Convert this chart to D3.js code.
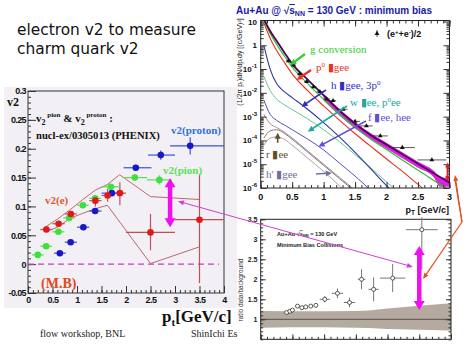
<!DOCTYPE html>
<html><head><meta charset="utf-8">
<script src="https://cdn.jsdelivr.net/npm/d3@7"></script>
<style>body{margin:0;background:#fff}svg{display:block}</style>
</head><body>
<script>
// ================= DATA =================
// Left panel: v2 vs pT (PHENIX)
const ptE     = [0.375,0.625,0.875,1.375,1.625,1.875,2.5,3.5];
const v2E     = [0.060,0.070,0.087,0.110,0.119,0.123,0.055,0.077];
const v2EexX  = [0.125,0.125,0.125,0.125,0.125,0.125,0.5,0.5];
const v2Elo   = [0.056,0.066,0.083,0.100,0.108,0.102,0.024,-0.033];
const v2Ehi   = [0.064,0.074,0.091,0.120,0.130,0.142,0.087,0.156];
const ptPion  = [0.2,0.37,0.62,0.84,1.12,1.37,1.69,2.18,2.68];
const v2Pion  = [0.016,0.031,0.056,0.080,0.102,0.114,0.134,0.150,0.146];
const pionExX = [0.12,0.12,0.12,0.12,0.12,0.12,0.2,0.25,0.25];
const pionExY = [0.003,0.003,0.003,0.003,0.004,0.004,0.005,0.005,0.008];
const ptProton  = [0.65,0.87,1.13,1.37,1.71,2.2,2.71,3.31];
const v2Proton  = [0.019,0.038,0.064,0.092,0.123,0.167,0.189,0.205];
const protonXlo = [0.53,0.75,1.0,1.25,1.5,1.95,2.45,2.9];
const protonXhi = [0.77,1.0,1.25,1.5,1.95,2.52,3.0,4.0];
const protonExY = [0.003,0.003,0.003,0.004,0.004,0.005,0.008,0.015];
const bandUpPt  = [0.35,0.6,0.87,1.12,1.37,1.62,1.87,2.5,3.5];
const bandUp    = [0.064,0.078,0.095,0.112,0.128,0.138,0.155,0.117,0.112];
const bandLoPt  = [0.35,0.6,0.87,1.12,1.37,1.62,2.5,3.5];
const bandLo    = [0.056,0.064,0.080,0.088,0.096,0.102,0.001,0.030];
const xTicksL = [0,0.5,1,1.5,2,2.5,3,3.5,4];
const yTicksL = [-0.05,0,0.05,0.1,0.15,0.2,0.25,0.3];

// Top right: electron spectra cocktail (log10 of yield)
const ptC = [0.05,0.15,0.25,0.375,0.5,0.75,1,1.25,1.5,1.75,2,2.25,2.5,2.75,3];
const totalLog = [1.1,0.6,0.2,-0.3,-0.78,-1.45,-2.1,-2.75,-3.3,-3.78,-4.18,-4.58,-4.98,-5.38,-5.78];
const gammaLog = [1.05,0.5,0.05,-0.45,-0.92,-1.62,-2.27,-2.9,-3.45,-3.95,-4.38,-4.82,-5.25,-5.68,-6.1];
const pi0Log   = [0.95,0.3,-0.2,-0.72,-1.2,-1.92,-2.55,-3.15,-3.72,-4.25,-4.78,-5.3,-5.85,-6.4,-7.0];
const etaLog   = [0.0,-1.0,-1.6,-1.95,-2.2,-2.7,-3.25,-3.85,-4.5,-5.2,-5.9,-6.5,-7,-7.5,-8];
const omegaLog = [-1.3,-1.9,-2.25,-2.5,-2.7,-3.1,-3.55,-4.05,-4.6,-5.15,-5.75,-6.3,-6.9,-7.4,-8];
const phiLog   = [-2.3,-2.9,-3.15,-3.35,-3.55,-3.95,-4.4,-4.95,-5.5,-6.1,-6.7,-7.3,-7.9,-8.4,-9];
const etapLog  = [-2.9,-3.3,-3.45,-3.65,-3.9,-4.45,-5.0,-5.55,-6.1,-6.7,-7.3,-7.9,-8.5,-9,-9.5];
const rhoLog   = [-3.9,-3.6,-3.55,-3.7,-3.95,-4.5,-5.05,-5.6,-6.15,-6.7,-7.3,-7.9,-8.5,-9,-9.5];
const grayLog  = [-4.2,-3.9,-3.85,-3.95,-4.2,-4.75,-5.3,-5.9,-6.5,-7.1,-7.7,-8.3,-8.9,-9.4,-10];
const bandPt   = [1.0,1.25,1.5,1.75,2.0,2.25,2.5,2.75,2.85,3.0];
const bandHiLog= [-2.05,-2.68,-3.22,-3.7,-4.1,-4.5,-4.9,-5.28,-5.55,-5.58];
const bandLoLog= [-2.32,-2.95,-3.5,-3.95,-4.35,-4.75,-5.15,-5.55,-5.95,-5.95];
const dataPt   = [0.44,0.52,0.62,0.73,0.84,0.94,1.05,1.15,1.31,1.5,1.68,1.9,2.25,2.72];
const dataLog  = [-0.66,-0.83,-1.2,-1.53,-1.75,-1.95,-2.26,-2.33,-2.69,-3.2,-3.39,-3.81,-4.3,-4.82];
const dataExX  = [0.04,0.04,0.04,0.04,0.05,0.05,0.05,0.05,0.07,0.08,0.1,0.12,0.2,0.23];
const yExpT = [1,0,-1,-2,-3,-4,-5,-6];
const xTicksT = [0,0.5,1,1.5,2,2.5,3];

// Bottom right: ratio data/background
const ratioPt  = [0.41,0.46,0.50,0.58,0.65,0.71,0.79,0.87,1.01,1.21,1.40,1.59,1.78,2.08,2.54];
const ratio    = [1.17,1.20,1.23,1.33,1.29,1.31,1.33,1.35,1.50,1.65,1.42,2.00,1.75,2.03,3.24];
const ratioExX = [0.03,0.03,0.03,0.03,0.03,0.03,0.03,0.03,0.08,0.09,0.09,0.06,0.08,0.2,0.25];
const ratioExY = [0.03,0.03,0.03,0.04,0.04,0.04,0.04,0.05,0.08,0.12,0.12,0.25,0.3,0.35,0.99];
const sysPt    = [0,0.5,1,1.5,1.7,2,2.5,3];
const sysUp    = [1.21,1.2,1.2,1.21,1.22,1.27,1.34,1.4];
const sysLo    = [0.79,0.8,0.8,0.79,0.78,0.76,0.74,0.72];
const yTicksB  = [1,1.5,2,2.5,3,3.5];

// ================= DRAW =================
const W=474,H=355;
const svg=d3.select('body').append('svg').attr('width',W).attr('height',H);
const SANS='Liberation Sans, Arial, sans-serif', SERIF='Liberation Serif, Times New Roman, serif';

function arrow(g,x1,y1,x2,y2,color,w,hl,hw,both){
  const a=Math.atan2(y2-y1,x2-x1);
  const head=(x,y,ang)=>{
    const bx=x-hl*Math.cos(ang), by=y-hl*Math.sin(ang);
    const px=-Math.sin(ang)*hw/2, py=Math.cos(ang)*hw/2;
    g.append('path').attr('d',`M${x},${y}L${bx+px},${by+py}L${bx-px},${by-py}Z`).attr('fill',color);
  };
  const sx= both? x1+hl*0.8*Math.cos(a):x1, sy= both? y1+hl*0.8*Math.sin(a):y1;
  g.append('line').attr('x1',sx).attr('y1',sy).attr('x2',x2-hl*0.8*Math.cos(a)).attr('y2',y2-hl*0.8*Math.sin(a))
    .attr('stroke',color).attr('stroke-width',w);
  head(x2,y2,a); if(both) head(x1,y1,a+Math.PI);
}

// Title
svg.append('text').attr('x',17).attr('y',35).attr('font-family','DejaVu Sans, Verdana, sans-serif').attr('font-size',15.4).attr('fill','#111').text('electron v2 to measure');
svg.append('text').attr('x',17).attr('y',54).attr('font-family','DejaVu Sans, Verdana, sans-serif').attr('font-size',15.4).attr('fill','#111').text('charm quark v2');

// ---------- Left panel ----------
svg.append('rect').attr('x',4).attr('y',87).attr('width',233).attr('height',221).attr('fill','#f2f0f4');
const xL=d3.scaleLinear([0,4],[28,224]);
const yL=d3.scaleLinear([-0.05,0.3],[293,91]);
const gL=svg.append('g');
gL.append('rect').attr('x',xL(0)).attr('y',yL(0.3)).attr('width',xL(4)-xL(0)).attr('height',yL(-0.05)-yL(0.3)).attr('fill','none').attr('stroke','#333').attr('stroke-width',1);
const axStyle=(g,fs)=>{g.select('.domain').remove();g.selectAll('line').attr('stroke','#333');g.selectAll('text').attr('font-family',SANS).attr('font-weight','bold').attr('font-size',fs).attr('fill','#111');};
gL.append('g').attr('transform',`translate(0,${yL(-0.05)})`).call(d3.axisBottom(xL).tickValues(d3.range(0,4.001,0.1)).tickSize(-3).tickFormat('')).call(g=>axStyle(g,9));
gL.append('g').attr('transform',`translate(0,${yL(-0.05)})`).call(d3.axisBottom(xL).tickValues(xTicksL).tickSizeInner(-7).tickSizeOuter(0).tickPadding(3).tickFormat(d=>String(d))).call(g=>axStyle(g,9))
  .call(g=>g.selectAll('text').attr('dy','0.71em').attr('y',4).attr('letter-spacing',-0.5));
gL.append('g').attr('transform',`translate(${xL(0)},0)`).call(d3.axisLeft(yL).tickValues(d3.range(-0.05,0.3001,0.01)).tickSize(-3).tickFormat('')).call(g=>axStyle(g,9));
gL.append('g').attr('transform',`translate(${xL(0)},0)`).call(d3.axisLeft(yL).tickValues(yTicksL).tickSizeInner(-8).tickSizeOuter(0).tickFormat(d=>String(+d.toFixed(2)))).call(g=>axStyle(g,9))
  .call(g=>g.selectAll('text').attr('x',-2).attr('letter-spacing',-0.6));

// zero line
gL.append('line').attr('x1',xL(0)).attr('x2',xL(3.9)).attr('y1',yL(0)).attr('y2',yL(0)).attr('stroke','#c83cc8').attr('stroke-width',1.4).attr('stroke-dasharray','6,4');
// band
const lineL=d3.line().x(d=>xL(d[0])).y(d=>yL(d[1]));
gL.append('path').attr('d',lineL(d3.zip(bandUpPt,bandUp))).attr('fill','none').attr('stroke','#c06868').attr('stroke-width',1);
gL.append('path').attr('d',lineL(d3.zip(bandLoPt,bandLo))).attr('fill','none').attr('stroke','#c06868').attr('stroke-width',1);

function errs(g,xs,ys,xl,xh,yl,yh,col){
  xs.forEach((x,i)=>{
    g.append('line').attr('x1',xL(xl[i])).attr('x2',xL(xh[i])).attr('y1',yL(ys[i])).attr('y2',yL(ys[i])).attr('stroke',col).attr('stroke-width',1.2);
    g.append('line').attr('x1',xL(x)).attr('x2',xL(x)).attr('y1',yL(yl[i])).attr('y2',yL(yh[i])).attr('stroke',col).attr('stroke-width',1.2);
  });
}
errs(gL,ptE,v2E,ptE.map((x,i)=>x-v2EexX[i]),ptE.map((x,i)=>x+v2EexX[i]),v2Elo,v2Ehi,'#c05060');
errs(gL,ptPion,v2Pion,ptPion.map((x,i)=>x-pionExX[i]),ptPion.map((x,i)=>x+pionExX[i]),v2Pion.map((y,i)=>y-pionExY[i]),v2Pion.map((y,i)=>y+pionExY[i]),'#50e050');
errs(gL,ptProton,v2Proton,protonXlo,protonXhi,v2Proton.map((y,i)=>y-protonExY[i]),v2Proton.map((y,i)=>y+protonExY[i]),'#3a50e0');
const dots=(xs,ys,col)=>gL.selectAll(null).data(d3.zip(xs,ys)).join('circle').attr('cx',d=>xL(d[0])).attr('cy',d=>yL(d[1])).attr('r',3.3).attr('fill',col);
dots(ptProton,v2Proton,'#1818c8');
dots(ptPion,v2Pion,'#3de03d');
dots(ptE,v2E,'#e01818');
// magenta double arrow
arrow(gL,xL(2.9),yL(0.149),xL(2.9),yL(0.064),'#ee10ee',4.5,9,11,true);

// texts left
const tL=(x,y,size,col,txt,w='bold',fam=SERIF)=>gL.append('text').attr('x',x).attr('y',y).attr('font-family',fam).attr('font-weight',w).attr('font-size',size).attr('fill',col).text(txt);
tL(7,106,12,'#111','v2');
{
  const t=gL.append('text').attr('x',36).attr('y',122).attr('font-family',SERIF).attr('font-weight','bold').attr('font-size',11).attr('fill','#111');
  t.append('tspan').text('v');
  t.append('tspan').attr('dy',3).attr('font-size',8).text('2');
  t.append('tspan').attr('dy',-8).attr('font-size',7).text(' pion');
  t.append('tspan').attr('dy',5).text(' & v');
  t.append('tspan').attr('dy',3).attr('font-size',8).text('2');
  t.append('tspan').attr('dy',-8).attr('font-size',7).text(' proton');
  t.append('tspan').attr('dy',5).text(' :');
}
tL(36,139,10.6,'#111','nucl-ex/0305013 (PHENIX)');
tL(171,134,11,'#3070e0','v2(proton)');
tL(163,174,11,'#58e058','v2(pion)');
tL(45,204,11,'#e05830','v2(e)');
tL(41,288,14,'#e04820','(M.B)');
{
  const t=svg.append('text').attr('x',162).attr('y',322).attr('font-family',SERIF).attr('font-weight','bold').attr('font-size',17).attr('fill','#111');
  t.append('tspan').text('p');
  t.append('tspan').attr('dy',4).attr('font-size',11).text('t');
  t.append('tspan').attr('dy',-4).text('[GeV/c]');
}
svg.append('text').attr('x',40).attr('y',337).attr('font-family',SERIF).attr('font-size',10).attr('fill','#222').text('flow workshop, BNL');
svg.append('text').attr('x',191).attr('y',337).attr('font-family',SERIF).attr('font-size',10).attr('fill','#222').text('ShinIchi Es');

// ---------- Top right ----------
const xT=d3.scaleLinear([0,3],[260.7,449.5]);
const yT=d3.scaleLog([1e-6,10],[188,21.5]);
const gT=svg.append('g');
svg.append('defs').append('clipPath').attr('id','clipT').append('rect').attr('x',xT(0)).attr('y',20.5).attr('width',xT(3)-xT(0)).attr('height',188-20.5);
gT.append('text').attr('x',236).attr('y',14).attr('font-family',SANS).attr('font-weight','bold').attr('font-size',10).attr('fill','#1a1aa8')
  .call(t=>{t.append('tspan').text('Au+Au @ √');t.append('tspan').attr('text-decoration','overline').text('s');t.append('tspan').attr('dy',2).attr('font-size',7).text('NN');t.append('tspan').attr('dy',-2).text(' = 130 GeV : minimum bias');});
// y label
gT.append('text').attr('transform','translate(242,62) rotate(-90)').attr('text-anchor','middle').attr('font-family',SANS).attr('font-size',7).attr('fill','#222').text('(1/2π p\u209C)dN/dp\u209Cdy [(c/GeV)²]');
const cT=gT.append('g').attr('clip-path','url(#clipT)');
const lineT=d3.line().x(d=>xT(d[0])).y(d=>yT(Math.pow(10,d[1]))).curve(d3.curveMonotoneX);
cT.append('path').attr('d',d3.area().x(d=>xT(d[0])).y0(d=>yT(Math.pow(10,d[2]))).y1(d=>yT(Math.pow(10,d[1]))).curve(d3.curveMonotoneX)(d3.zip(bandPt,bandHiLog,bandLoLog))).attr('fill','#e020e0');
const curves=[[grayLog,'#b0a0a8',1],[rhoLog,'#8a7a70',1],[etapLog,'#9a8aa0',1],[phiLog,'#5050b8',1],[omegaLog,'#60c890',1],[etaLog,'#3038a8',1.1],[pi0Log,'#e83020',1.1],[gammaLog,'#28c828',1.2],[totalLog,'#500060',1.8]];
curves.forEach(([v,c,w])=>cT.append('path').attr('d',lineT(d3.zip(ptC,v))).attr('fill','none').attr('stroke',c).attr('stroke-width',w));
// data
dataPt.forEach((p,i)=>{
  const y=yT(Math.pow(10,dataLog[i]));
  gT.append('line').attr('x1',xT(p-dataExX[i])).attr('x2',xT(p+dataExX[i])).attr('y1',y).attr('y2',y).attr('stroke','#333').attr('stroke-width',0.8);
  gT.append('path').attr('d',d3.symbol(d3.symbolTriangle,10)()).attr('transform',`translate(${xT(p)},${y})`).attr('fill','#111');
});
// frame + ticks
gT.append('rect').attr('x',xT(0)).attr('y',20.5).attr('width',xT(3)-xT(0)).attr('height',188-20.5).attr('fill','none').attr('stroke','#222');
const minorLog=[];yExpT.forEach(k=>{for(let m=2;m<=9;m++){const v=m*Math.pow(10,k-1);if(v>=1e-6&&v<=10)minorLog.push(v);}});
[[d3.axisLeft,xT(0),-3,minorLog],[d3.axisLeft,xT(0),-6,yExpT.map(k=>Math.pow(10,k))],[d3.axisRight,xT(3),-3,minorLog],[d3.axisRight,xT(3),-6,yExpT.map(k=>Math.pow(10,k))]].forEach(([ax,x,s,tv])=>
  gT.append('g').attr('transform',`translate(${x},0)`).call(ax(yT).tickValues(tv).tickSize(s).tickFormat('')).call(g=>axStyle(g,8)));
[[d3.axisBottom,188,-3,d3.range(0,3.001,0.1)],[d3.axisBottom,188,-6,xTicksT],[d3.axisTop,20.5,-3,d3.range(0,3.001,0.1)],[d3.axisTop,20.5,-6,xTicksT]].forEach(([ax,y,s,tv])=>
  gT.append('g').attr('transform',`translate(0,${y})`).call(ax(xT).tickValues(tv).tickSize(s).tickFormat('')).call(g=>axStyle(g,8)));
xTicksT.forEach(v=>gT.append('text').attr('x',xT(v)).attr('y',200).attr('text-anchor','middle').attr('font-family',SANS).attr('font-weight','bold').attr('font-size',9).attr('fill','#111').text(String(v)));
yExpT.forEach(k=>{
  const t=gT.append('text').attr('x',257).attr('y',yT(Math.pow(10,k))+3).attr('text-anchor','end').attr('font-family',SANS).attr('font-weight','bold').attr('font-size',8).attr('fill','#111');
  if(k===1)t.text('10');else if(k===0)t.text('1');else{t.append('tspan').text('10');t.append('tspan').attr('dy',-4).attr('font-size',6).text(String(k));}
});
{
  const t=gT.append('text').attr('x',449).attr('y',213).attr('text-anchor','end').attr('font-family',SANS).attr('font-weight','bold').attr('font-size',9).attr('fill','#111');
  t.append('tspan').text('p');t.append('tspan').attr('dy',2).attr('font-size',6.5).text('T');t.append('tspan').attr('dy',-2).text(' [GeV/c]');
}
// legend
gT.append('line').attr('x1',377).attr('x2',377).attr('y1',30).attr('y2',37).attr('stroke','#333').attr('stroke-width',0.8);
gT.append('path').attr('d',d3.symbol(d3.symbolTriangle,10)()).attr('transform','translate(377,33.5)').attr('fill','#111');
{
  const t=gT.append('text').attr('x',387).attr('y',37).attr('font-family',SANS).attr('font-weight','bold').attr('font-size',9).attr('fill','#111');
  t.append('tspan').text('(e');t.append('tspan').attr('dy',-3).attr('font-size',6).text('+');t.append('tspan').attr('dy',3).text('+e');t.append('tspan').attr('dy',-3).attr('font-size',6).text('-');t.append('tspan').attr('dy',3).text(')/2');
}
// labels with arrows
const P=(pt,lg)=>[xT(pt),yT(Math.pow(10,lg))];
function lab(x,y,col,parts,size=11){
  const t=gT.append('text').attr('x',x).attr('y',y).attr('font-family',SERIF).attr('font-size',size).attr('fill',col);
  parts.forEach(p=>{const s=t.append('tspan').text(p[0]);if(p[1])s.attr('dy',p[1]);if(p[2])s.attr('font-size',p[2]);});
}
lab(310,53,'#30d030',[['g conversion']]);
arrow(gT,305,54,...P(0.47,-0.83),'#30d030',2.2,6,6,false);
lab(316,71,'#e83020',[['p'],['0',-4,7],[' ▮gee',4]]);
arrow(gT,311,70,...P(0.57,-1.46),'#e83020',2.2,6,6,false);
lab(331,89,'#3030c0',[['h ▮gee, 3p'],['0',-4,7]]);
arrow(gT,326,90,...P(0.65,-2.58),'#3030c0',1.6,6,6,false);
lab(350,106,'#20a8a0',[['w ▮ee, p'],['0',-4,7],['ee',4]]);
arrow(gT,347,106,...P(0.75,-3.63),'#20a8a0',1.6,6,6,false);
lab(368,121,'#6050d0',[['f ▮ee, hee']]);
arrow(gT,366,121,...P(0.92,-4.26),'#6050d0',1.6,6,6,false);
lab(266,158,'#605030',[['r ▮ee']]);
arrow(gT,...P(0.27,-4.1),...P(0.27,-3.68),'#605030',1.6,6,6,false);
lab(266,178,'#7070a0',[['h\' ▮gee']]);
arrow(gT,316,174,...P(1.13,-5.37),'#7070a0',1.6,6,6,false);
// red double arrow
arrow(gT,...P(2.97,-4.93),...P(2.97,-5.69),'#e02020',1.6,5,5,true);

// ---------- Bottom right ----------
const xB=d3.scaleLinear([0,3],[260.7,451]);
const yB=d3.scaleLinear([0.5,3.5],[339.3,219.3]);
const gB=svg.append('g');
svg.select('defs').append('clipPath').attr('id','clipB').append('rect').attr('x',xB(0)).attr('y',yB(3.5)).attr('width',xB(3)-xB(0)).attr('height',yB(0.5)-yB(3.5));
gB.append('path').attr('clip-path','url(#clipB)').attr('d',d3.area().x(d=>xB(d[0])).y0(d=>yB(d[2])).y1(d=>yB(d[1]))(d3.zip(sysPt,sysUp,sysLo))).attr('fill','#b4aaa0');
gB.append('line').attr('x1',xB(0)).attr('x2',xB(3)).attr('y1',yB(1)).attr('y2',yB(1)).attr('stroke','#5a524a').attr('stroke-width',1);
gB.append('rect').attr('x',xB(0)).attr('y',yB(3.5)).attr('width',xB(3)-xB(0)).attr('height',yB(0.5)-yB(3.5)).attr('fill','none').attr('stroke','#222');
[[d3.axisLeft,xB(0),-2.5,d3.range(0.5,3.501,0.1)],[d3.axisLeft,xB(0),-5,yTicksB],[d3.axisRight,xB(3),-2.5,d3.range(0.5,3.501,0.1)],[d3.axisRight,xB(3),-5,yTicksB]].forEach(([ax,x,s,tv])=>
  gB.append('g').attr('transform',`translate(${x},0)`).call(ax(yB).tickValues(tv).tickSize(s).tickFormat('')).call(g=>axStyle(g,7)));
[[d3.axisBottom,yB(0.5),-2.5,d3.range(0,3.001,0.1)],[d3.axisBottom,yB(0.5),-5,[0,0.5,1,1.5,2,2.5,3]]].forEach(([ax,y,s,tv])=>
  gB.append('g').attr('transform',`translate(0,${y})`).call(ax(xB).tickValues(tv).tickSize(s).tickFormat('')).call(g=>axStyle(g,7)));
yTicksB.forEach(v=>gB.append('text').attr('x',257.5).attr('y',yB(v)+2.5).attr('text-anchor','end').attr('font-family',SANS).attr('font-weight','bold').attr('font-size',7).attr('fill','#222').text(String(v)));
gB.append('text').attr('transform','translate(243,290) rotate(-90)').attr('text-anchor','middle').attr('font-family',SANS).attr('font-size',6.5).attr('fill','#333').text('ratio data/background');
gB.append('text').attr('x',277).attr('y',235.5).attr('font-family',SANS).attr('font-weight','bold').attr('font-size',5.6).attr('fill','#222')
  .call(t=>{t.append('tspan').text('Au+Au √');t.append('tspan').attr('text-decoration','overline').text('s');t.append('tspan').attr('dy',1.5).attr('font-size',4).text('NN');t.append('tspan').attr('dy',-1.5).text(' = 130 GeV');});
gB.append('text').attr('x',277).attr('y',247).attr('font-family',SANS).attr('font-weight','bold').attr('font-size',5.6).attr('fill','#222').text('Minimum Bias Collisions');
ratioPt.forEach((p,i)=>{
  const y0=Math.min(3.55,ratio[i]+ratioExY[i]);
  gB.append('line').attr('x1',xB(p-ratioExX[i])).attr('x2',xB(p+ratioExX[i])).attr('y1',yB(ratio[i])).attr('y2',yB(ratio[i])).attr('stroke','#777').attr('stroke-width',1);
  gB.append('line').attr('x1',xB(p)).attr('x2',xB(p)).attr('y1',yB(ratio[i]-ratioExY[i])).attr('y2',yB(y0)).attr('stroke','#777').attr('stroke-width',1);
});
gB.selectAll(null).data(d3.zip(ratioPt,ratio)).join('circle').attr('cx',d=>xB(d[0])).attr('cy',d=>yB(d[1])).attr('r',2).attr('fill','#fff').attr('stroke','#333').attr('stroke-width',0.8);
arrow(gB,xB(2.5),yB(2.83),xB(2.5),yB(1.23),'#ee10ee',4.5,9,11,true);

// connecting annotation lines
const gA=svg.append('g');
arrow(gA,xL(3.06),yL(0.109),xB(2.4),yB(2.31),'#d040d0',1,6,5,true);
gA.append('line').attr('x1',455).attr('y1',180).attr('x2',462).attr('y2',222).attr('stroke','#e05020').attr('stroke-width',1.2);
arrow(gA,462,222,455,175,'#e05020',1.2,6,5,false);
arrow(gA,462,222,423,279,'#e05020',1.2,6,5,false);
</script>
</body></html>
